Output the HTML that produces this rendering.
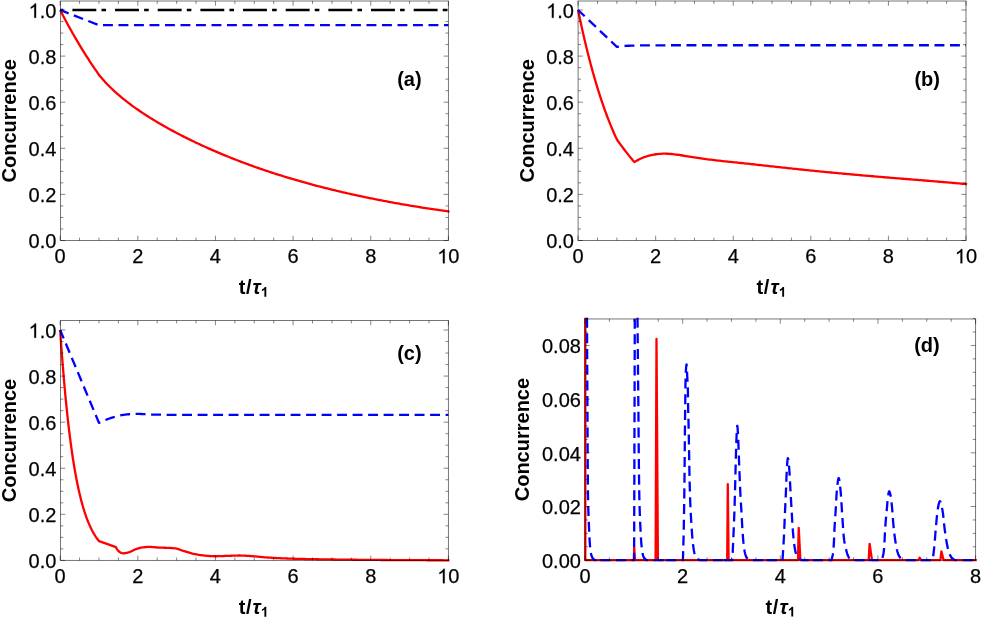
<!DOCTYPE html>
<html><head><meta charset="utf-8"><title>Concurrence</title>
<style>html,body{margin:0;padding:0;background:#fff;}svg{display:block;}</style></head><body>
<svg width="981" height="617" viewBox="0 0 981 617">
<rect width="981" height="617" fill="#fff"/>
<g id="a-curves">
<path d="M60.15 10 L448.4 10" fill="none" stroke="#000" stroke-width="2.3" stroke-linejoin="round" stroke-dasharray="4.6 9 23.9 5.16" stroke-dashoffset="1.35"/>
<path d="M60.15 10 L61.49 12.61 L62.83 15.19 L64.17 17.74 L65.51 20.26 L66.84 22.75 L68.18 25.21 L69.52 27.65 L70.86 30.06 L72.2 32.44 L73.54 34.79 L74.88 37.12 L76.22 39.42 L77.55 41.7 L78.89 43.95 L80.23 46.17 L81.57 48.37 L82.91 50.54 L84.25 52.69 L85.59 54.82 L86.93 56.92 L88.26 58.99 L89.6 61.05 L90.94 63.08 L92.28 65.09 L93.62 67.07 L94.96 69.03 L96.3 70.97 L97.64 72.89 L98.97 74.79 L98.97 74.92 L100.73 77.03 L102.49 79.06 L104.24 81.02 L106 82.92 L107.75 84.75 L109.51 86.53 L111.27 88.25 L113.02 89.92 L114.78 91.54 L116.53 93.13 L118.29 94.67 L120.05 96.17 L121.8 97.64 L123.56 99.07 L125.31 100.47 L127.07 101.85 L128.83 103.19 L130.58 104.51 L132.34 105.81 L134.09 107.08 L135.85 108.33 L137.6 109.56 L139.36 110.77 L141.12 111.96 L142.87 113.13 L144.63 114.28 L146.38 115.42 L148.14 116.54 L149.9 117.65 L151.65 118.74 L153.41 119.81 L155.16 120.88 L156.92 121.93 L158.68 122.97 L160.43 124 L162.19 125.01 L163.94 126.01 L165.7 127.01 L167.46 127.99 L169.21 128.96 L170.97 129.92 L172.72 130.87 L174.48 131.81 L176.23 132.74 L177.99 133.66 L179.75 134.58 L181.5 135.48 L183.26 136.38 L185.01 137.26 L186.77 138.14 L188.53 139.01 L190.28 139.88 L192.04 140.73 L193.79 141.58 L195.55 142.42 L197.31 143.25 L199.06 144.07 L200.82 144.89 L202.57 145.7 L204.33 146.5 L206.09 147.29 L207.84 148.08 L209.6 148.86 L211.35 149.63 L213.11 150.4 L214.86 151.16 L216.62 151.92 L218.38 152.66 L220.13 153.4 L221.89 154.14 L223.64 154.87 L225.4 155.59 L227.16 156.3 L228.91 157.01 L230.67 157.72 L232.42 158.41 L234.18 159.1 L235.94 159.79 L237.69 160.47 L239.45 161.14 L241.2 161.81 L242.96 162.47 L244.72 163.13 L246.47 163.78 L248.23 164.43 L249.98 165.07 L251.74 165.7 L253.49 166.33 L255.25 166.96 L257.01 167.58 L258.76 168.19 L260.52 168.8 L262.27 169.4 L264.03 170 L265.79 170.59 L267.54 171.18 L269.3 171.76 L271.05 172.34 L272.81 172.92 L274.57 173.48 L276.32 174.05 L278.08 174.61 L279.83 175.16 L281.59 175.71 L283.34 176.26 L285.1 176.8 L286.86 177.33 L288.61 177.86 L290.37 178.39 L292.12 178.91 L293.88 179.43 L295.64 179.95 L297.39 180.45 L299.15 180.96 L300.9 181.46 L302.66 181.96 L304.42 182.45 L306.17 182.94 L307.93 183.42 L309.68 183.9 L311.44 184.38 L313.2 184.85 L314.95 185.32 L316.71 185.78 L318.46 186.24 L320.22 186.7 L321.97 187.15 L323.73 187.6 L325.49 188.05 L327.24 188.49 L329 188.92 L330.75 189.36 L332.51 189.79 L334.27 190.21 L336.02 190.64 L337.78 191.06 L339.53 191.47 L341.29 191.89 L343.05 192.29 L344.8 192.7 L346.56 193.1 L348.31 193.5 L350.07 193.9 L351.83 194.29 L353.58 194.68 L355.34 195.06 L357.09 195.44 L358.85 195.82 L360.6 196.2 L362.36 196.57 L364.12 196.94 L365.87 197.31 L367.63 197.67 L369.38 198.03 L371.14 198.39 L372.9 198.74 L374.65 199.09 L376.41 199.44 L378.16 199.79 L379.92 200.13 L381.68 200.47 L383.43 200.81 L385.19 201.14 L386.94 201.47 L388.7 201.8 L390.46 202.12 L392.21 202.45 L393.97 202.77 L395.72 203.08 L397.48 203.4 L399.23 203.71 L400.99 204.02 L402.75 204.33 L404.5 204.63 L406.26 204.93 L408.01 205.23 L409.77 205.53 L411.53 205.82 L413.28 206.11 L415.04 206.4 L416.79 206.69 L418.55 206.98 L420.31 207.26 L422.06 207.54 L423.82 207.81 L425.57 208.09 L427.33 208.36 L429.09 208.63 L430.84 208.9 L432.6 209.17 L434.35 209.43 L436.11 209.69 L437.86 209.95 L439.62 210.21 L441.38 210.46 L443.13 210.71 L444.89 210.96 L446.64 211.21 L448.4 211.46 L449.5 211.61" fill="none" stroke="#f00" stroke-width="2.3" stroke-linejoin="round"/>
<path d="M60.15 10 L98.97 25.17 L448.4 25.17" fill="none" stroke="#00f" stroke-width="2.3" stroke-linejoin="round" stroke-dasharray="9.9 5.6" stroke-dashoffset="0.8"/>
</g>
<g id="a-frame" stroke="#000" stroke-opacity="0.6" stroke-width="0.8" fill="none">
<rect x="60.5" y="1" width="387.9" height="239.5" stroke-width="0.9"/>
<path d="M60.15 240.5 v-4.8 M60.15 1 v4.8 M79.56 240.5 v-2.9 M79.56 1 v2.9 M98.97 240.5 v-2.9 M98.97 1 v2.9 M118.39 240.5 v-2.9 M118.39 1 v2.9 M137.8 240.5 v-4.8 M137.8 1 v4.8 M157.21 240.5 v-2.9 M157.21 1 v2.9 M176.62 240.5 v-2.9 M176.62 1 v2.9 M196.04 240.5 v-2.9 M196.04 1 v2.9 M215.45 240.5 v-4.8 M215.45 1 v4.8 M234.86 240.5 v-2.9 M234.86 1 v2.9 M254.28 240.5 v-2.9 M254.28 1 v2.9 M273.69 240.5 v-2.9 M273.69 1 v2.9 M293.1 240.5 v-4.8 M293.1 1 v4.8 M312.51 240.5 v-2.9 M312.51 1 v2.9 M331.93 240.5 v-2.9 M331.93 1 v2.9 M351.34 240.5 v-2.9 M351.34 1 v2.9 M370.75 240.5 v-4.8 M370.75 1 v4.8 M390.16 240.5 v-2.9 M390.16 1 v2.9 M409.57 240.5 v-2.9 M409.57 1 v2.9 M428.99 240.5 v-2.9 M428.99 1 v2.9 M448.4 240.5 v-4.8 M448.4 1 v4.8 M60.5 240.5 h4.8 M448.4 240.5 h-4.8 M60.5 228.97 h2.9 M448.4 228.97 h-2.9 M60.5 217.45 h2.9 M448.4 217.45 h-2.9 M60.5 205.93 h2.9 M448.4 205.93 h-2.9 M60.5 194.4 h4.8 M448.4 194.4 h-4.8 M60.5 182.88 h2.9 M448.4 182.88 h-2.9 M60.5 171.35 h2.9 M448.4 171.35 h-2.9 M60.5 159.82 h2.9 M448.4 159.82 h-2.9 M60.5 148.3 h4.8 M448.4 148.3 h-4.8 M60.5 136.77 h2.9 M448.4 136.77 h-2.9 M60.5 125.25 h2.9 M448.4 125.25 h-2.9 M60.5 113.72 h2.9 M448.4 113.72 h-2.9 M60.5 102.2 h4.8 M448.4 102.2 h-4.8 M60.5 90.67 h2.9 M448.4 90.67 h-2.9 M60.5 79.15 h2.9 M448.4 79.15 h-2.9 M60.5 67.62 h2.9 M448.4 67.62 h-2.9 M60.5 56.1 h4.8 M448.4 56.1 h-4.8 M60.5 44.57 h2.9 M448.4 44.57 h-2.9 M60.5 33.05 h2.9 M448.4 33.05 h-2.9 M60.5 21.52 h2.9 M448.4 21.52 h-2.9 M60.5 10 h4.8 M448.4 10 h-4.8"/>
</g>
<g id="a-labels" font-family='"Liberation Sans", sans-serif' font-size="20" fill="#000" style="filter:grayscale(1)">
<text x="56.4" y="248.3" text-anchor="end" stroke="#000" stroke-width="0.25">0.0</text>
<text x="56.4" y="202.2" text-anchor="end" stroke="#000" stroke-width="0.25">0.2</text>
<text x="56.4" y="156.1" text-anchor="end" stroke="#000" stroke-width="0.25">0.4</text>
<text x="56.4" y="110" text-anchor="end" stroke="#000" stroke-width="0.25">0.6</text>
<text x="56.4" y="63.9" text-anchor="end" stroke="#000" stroke-width="0.25">0.8</text>
<path d="M36.05 17.8H34.29V6.6Q33.66 7.2 32.63 7.81Q31.6 8.42 30.77 8.72V7.02Q32.25 6.33 33.35 5.34Q34.46 4.35 34.92 3.43H36.05Z" fill="#000" stroke="#000" stroke-width="0.25"/>
<text x="56.4" y="17.8" text-anchor="end" stroke="#000" stroke-width="0.25">.0</text>
<text x="60.1" y="263.3" text-anchor="middle" stroke="#000" stroke-width="0.25">0</text>
<text x="137.75" y="263.3" text-anchor="middle" stroke="#000" stroke-width="0.25">2</text>
<text x="215.4" y="263.3" text-anchor="middle" stroke="#000" stroke-width="0.25">4</text>
<text x="293.05" y="263.3" text-anchor="middle" stroke="#000" stroke-width="0.25">6</text>
<text x="370.7" y="263.3" text-anchor="middle" stroke="#000" stroke-width="0.25">8</text>
<path d="M444.68 263.3H442.92V252.1Q442.29 252.7 441.26 253.31Q440.22 253.92 439.4 254.22V252.52Q440.88 251.83 441.98 250.84Q443.09 249.85 443.55 248.93H444.68Z" fill="#000" stroke="#000" stroke-width="0.25"/>
<text x="448.35" y="263.3" text-anchor="start" stroke="#000" stroke-width="0.25">0</text>
<text transform="translate(15.7 120.75) rotate(-90)" text-anchor="middle" font-weight="bold">Concurrence</text>
<text x="238.7" y="293.8" font-weight="bold">t</text>
<text x="245.9" y="293.8" font-weight="bold">/</text>
<text x="252.6" y="293.8" font-weight="bold" font-style="italic">τ</text>
<path d="M266.29 296.8H264.41V289.72Q263.38 290.68 261.98 291.14V289.43Q262.72 289.19 263.58 288.52Q264.45 287.85 264.77 286.95H266.29Z" fill="#000"/>
<text x="409.4" y="85.8" text-anchor="middle" font-weight="bold">(a)</text>
</g>
<g id="b-curves">
<path d="M578.1 10 L579.09 14.83 L580.09 19.55 L581.08 24.18 L582.08 28.71 L583.07 33.15 L584.07 37.49 L585.06 41.74 L586.06 45.91 L587.05 49.98 L588.05 53.97 L589.04 57.88 L590.04 61.7 L591.03 65.45 L592.02 69.11 L593.02 72.7 L594.01 76.22 L595.01 79.66 L596 83.03 L597 86.33 L597.99 89.55 L598.99 92.72 L599.98 95.81 L600.98 98.84 L601.97 101.81 L602.97 104.71 L603.96 107.56 L604.95 110.34 L605.95 113.07 L606.94 115.74 L607.94 118.35 L608.93 120.91 L609.93 123.41 L610.92 125.87 L611.92 128.27 L612.91 130.62 L613.91 132.92 L614.9 135.17 L615.9 137.38 L616.89 139.54 L616.89 139.54 L618.48 141.75 L620.06 143.93 L621.65 146.08 L623.24 148.2 L624.82 150.29 L626.41 152.34 L628 154.36 L629.58 156.35 L631.17 158.31 L632.76 160.24 L634.35 162.13 L634.35 162.13 L636.01 161.09 L637.68 160.14 L639.35 159.27 L641.01 158.48 L642.68 157.76 L644.35 157.11 L646.01 156.53 L647.68 156.01 L649.34 155.56 L651.01 155.16 L652.68 154.81 L654.34 154.51 L656.01 154.26 L657.68 154.06 L659.34 153.9 L661.01 153.79 L662.68 153.72 L664.34 153.7 L666.01 153.71 L667.68 153.77 L669.34 153.86 L671.01 153.98 L672.68 154.14 L674.34 154.32 L676.01 154.52 L677.68 154.75 L679.34 154.98 L681.01 155.24 L682.68 155.5 L684.34 155.77 L686.01 156.04 L687.68 156.32 L689.34 156.6 L691.01 156.87 L692.68 157.14 L694.34 157.41 L696.01 157.66 L697.68 157.92 L699.34 158.16 L701.01 158.4 L702.68 158.63 L704.34 158.86 L706.01 159.09 L707.68 159.31 L709.34 159.52 L711.01 159.73 L712.68 159.94 L714.34 160.14 L716.01 160.34 L717.68 160.53 L719.34 160.72 L721.01 160.91 L722.68 161.09 L724.34 161.27 L726.01 161.45 L727.68 161.62 L729.34 161.8 L731.01 161.97 L732.68 162.14 L734.34 162.31 L736.01 162.48 L737.68 162.66 L739.34 162.83 L741.01 163.01 L742.67 163.19 L744.34 163.36 L746.01 163.54 L747.67 163.72 L749.34 163.9 L751.01 164.08 L752.67 164.26 L754.34 164.44 L756.01 164.62 L757.67 164.8 L759.34 164.99 L761.01 165.17 L762.67 165.35 L764.34 165.54 L766.01 165.72 L767.67 165.9 L769.34 166.09 L771.01 166.27 L772.67 166.45 L774.34 166.63 L776.01 166.82 L777.67 167 L779.34 167.18 L781.01 167.36 L782.67 167.55 L784.34 167.73 L786.01 167.91 L787.67 168.09 L789.34 168.27 L791.01 168.45 L792.67 168.62 L794.34 168.8 L796.01 168.98 L797.67 169.15 L799.34 169.33 L801.01 169.5 L802.67 169.68 L804.34 169.85 L806.01 170.02 L807.67 170.19 L809.34 170.36 L811.01 170.53 L812.67 170.7 L814.34 170.87 L816.01 171.03 L817.67 171.2 L819.34 171.37 L821.01 171.53 L822.67 171.7 L824.34 171.86 L826.01 172.02 L827.67 172.18 L829.34 172.34 L831 172.5 L832.67 172.66 L834.34 172.82 L836 172.98 L837.67 173.14 L839.34 173.29 L841 173.45 L842.67 173.6 L844.34 173.76 L846 173.91 L847.67 174.06 L849.34 174.21 L851 174.36 L852.67 174.51 L854.34 174.66 L856 174.81 L857.67 174.96 L859.34 175.11 L861 175.25 L862.67 175.4 L864.34 175.54 L866 175.69 L867.67 175.83 L869.34 175.97 L871 176.11 L872.67 176.25 L874.34 176.4 L876 176.54 L877.67 176.68 L879.34 176.81 L881 176.95 L882.67 177.09 L884.34 177.23 L886 177.37 L887.67 177.51 L889.34 177.64 L891 177.78 L892.67 177.92 L894.34 178.05 L896 178.19 L897.67 178.32 L899.34 178.46 L901 178.59 L902.67 178.73 L904.34 178.86 L906 179 L907.67 179.13 L909.34 179.27 L911 179.41 L912.67 179.54 L914.34 179.68 L916 179.81 L917.67 179.95 L919.34 180.08 L921 180.22 L922.67 180.35 L924.33 180.49 L926 180.62 L927.67 180.76 L929.33 180.9 L931 181.03 L932.67 181.17 L934.33 181.31 L936 181.45 L937.67 181.59 L939.33 181.73 L941 181.87 L942.67 182 L944.33 182.15 L946 182.29 L947.67 182.43 L949.33 182.57 L951 182.71 L952.67 182.86 L954.33 183 L956 183.14 L957.67 183.29 L959.33 183.44 L961 183.58 L962.67 183.73 L964.33 183.88 L966 184.03 L967.1 184.13" fill="none" stroke="#f00" stroke-width="2.3" stroke-linejoin="round"/>
<path d="M578.1 10 L616.89 46.88 L619.82 46.46 L622.76 46.15 L625.69 45.92 L628.62 45.75 L631.56 45.62 L634.49 45.53 L637.43 45.46 L640.36 45.41 L643.29 45.37 L646.23 45.34 L649.16 45.32 L652.09 45.31 L655.03 45.3 L657.96 45.29 L660.9 45.28 L663.83 45.28 L666.76 45.28 L669.7 45.27 L672.63 45.27 L675.56 45.27 L678.5 45.27 L681.43 45.27 L684.37 45.27 L687.3 45.27 L690.23 45.27 L693.17 45.27 L696.1 45.27 L699.03 45.27 L701.97 45.27 L704.9 45.27 L707.83 45.27 L710.77 45.27 L713.7 45.27 L716.64 45.27 L719.57 45.27 L722.5 45.27 L725.44 45.27 L728.37 45.27 L731.3 45.27 L734.24 45.27 L737.17 45.27 L740.11 45.27 L743.04 45.27 L745.97 45.27 L748.91 45.27 L751.84 45.27 L754.77 45.27 L757.71 45.27 L760.64 45.27 L763.57 45.27 L766.51 45.27 L769.44 45.27 L772.38 45.27 L775.31 45.27 L778.24 45.27 L781.18 45.27 L784.11 45.27 L787.04 45.27 L789.98 45.27 L792.91 45.27 L795.85 45.27 L798.78 45.27 L801.71 45.27 L804.65 45.27 L807.58 45.27 L810.51 45.27 L813.45 45.27 L816.38 45.27 L819.32 45.27 L822.25 45.27 L825.18 45.27 L828.12 45.27 L831.05 45.27 L833.98 45.27 L836.92 45.27 L839.85 45.27 L842.78 45.27 L845.72 45.27 L848.65 45.27 L851.59 45.27 L854.52 45.27 L857.45 45.27 L860.39 45.27 L863.32 45.27 L866.25 45.27 L869.19 45.27 L872.12 45.27 L875.06 45.27 L877.99 45.27 L880.92 45.27 L883.86 45.27 L886.79 45.27 L889.72 45.27 L892.66 45.27 L895.59 45.27 L898.52 45.27 L901.46 45.27 L904.39 45.27 L907.33 45.27 L910.26 45.27 L913.19 45.27 L916.13 45.27 L919.06 45.27 L921.99 45.27 L924.93 45.27 L927.86 45.27 L930.8 45.27 L933.73 45.27 L936.66 45.27 L939.6 45.27 L942.53 45.27 L945.46 45.27 L948.4 45.27 L951.33 45.27 L954.27 45.27 L957.2 45.27 L960.13 45.27 L963.07 45.27 L966 45.27" fill="none" stroke="#00f" stroke-width="2.3" stroke-linejoin="round" stroke-dasharray="9.9 5.6" stroke-dashoffset="0.8"/>
</g>
<g id="b-frame" stroke="#000" stroke-opacity="0.6" stroke-width="0.8" fill="none">
<rect x="578.1" y="1" width="387.9" height="239.5" stroke-width="0.9"/>
<path d="M578.1 240.5 v-4.8 M578.1 1 v4.8 M597.5 240.5 v-2.9 M597.5 1 v2.9 M616.89 240.5 v-2.9 M616.89 1 v2.9 M636.29 240.5 v-2.9 M636.29 1 v2.9 M655.68 240.5 v-4.8 M655.68 1 v4.8 M675.08 240.5 v-2.9 M675.08 1 v2.9 M694.47 240.5 v-2.9 M694.47 1 v2.9 M713.87 240.5 v-2.9 M713.87 1 v2.9 M733.26 240.5 v-4.8 M733.26 1 v4.8 M752.65 240.5 v-2.9 M752.65 1 v2.9 M772.05 240.5 v-2.9 M772.05 1 v2.9 M791.45 240.5 v-2.9 M791.45 1 v2.9 M810.84 240.5 v-4.8 M810.84 1 v4.8 M830.24 240.5 v-2.9 M830.24 1 v2.9 M849.63 240.5 v-2.9 M849.63 1 v2.9 M869.03 240.5 v-2.9 M869.03 1 v2.9 M888.42 240.5 v-4.8 M888.42 1 v4.8 M907.82 240.5 v-2.9 M907.82 1 v2.9 M927.21 240.5 v-2.9 M927.21 1 v2.9 M946.61 240.5 v-2.9 M946.61 1 v2.9 M966 240.5 v-4.8 M966 1 v4.8 M578.1 240.5 h4.8 M966 240.5 h-4.8 M578.1 228.97 h2.9 M966 228.97 h-2.9 M578.1 217.45 h2.9 M966 217.45 h-2.9 M578.1 205.93 h2.9 M966 205.93 h-2.9 M578.1 194.4 h4.8 M966 194.4 h-4.8 M578.1 182.88 h2.9 M966 182.88 h-2.9 M578.1 171.35 h2.9 M966 171.35 h-2.9 M578.1 159.82 h2.9 M966 159.82 h-2.9 M578.1 148.3 h4.8 M966 148.3 h-4.8 M578.1 136.77 h2.9 M966 136.77 h-2.9 M578.1 125.25 h2.9 M966 125.25 h-2.9 M578.1 113.72 h2.9 M966 113.72 h-2.9 M578.1 102.2 h4.8 M966 102.2 h-4.8 M578.1 90.67 h2.9 M966 90.67 h-2.9 M578.1 79.15 h2.9 M966 79.15 h-2.9 M578.1 67.62 h2.9 M966 67.62 h-2.9 M578.1 56.1 h4.8 M966 56.1 h-4.8 M578.1 44.57 h2.9 M966 44.57 h-2.9 M578.1 33.05 h2.9 M966 33.05 h-2.9 M578.1 21.52 h2.9 M966 21.52 h-2.9 M578.1 10 h4.8 M966 10 h-4.8"/>
</g>
<g id="b-labels" font-family='"Liberation Sans", sans-serif' font-size="20" fill="#000" style="filter:grayscale(1)">
<text x="574" y="248.3" text-anchor="end" stroke="#000" stroke-width="0.25">0.0</text>
<text x="574" y="202.2" text-anchor="end" stroke="#000" stroke-width="0.25">0.2</text>
<text x="574" y="156.1" text-anchor="end" stroke="#000" stroke-width="0.25">0.4</text>
<text x="574" y="110" text-anchor="end" stroke="#000" stroke-width="0.25">0.6</text>
<text x="574" y="63.9" text-anchor="end" stroke="#000" stroke-width="0.25">0.8</text>
<path d="M553.65 17.8H551.89V6.6Q551.26 7.2 550.23 7.81Q549.2 8.42 548.38 8.72V7.02Q549.85 6.33 550.95 5.34Q552.06 4.35 552.52 3.43H553.65Z" fill="#000" stroke="#000" stroke-width="0.25"/>
<text x="574" y="17.8" text-anchor="end" stroke="#000" stroke-width="0.25">.0</text>
<text x="578.05" y="263.3" text-anchor="middle" stroke="#000" stroke-width="0.25">0</text>
<text x="655.63" y="263.3" text-anchor="middle" stroke="#000" stroke-width="0.25">2</text>
<text x="733.21" y="263.3" text-anchor="middle" stroke="#000" stroke-width="0.25">4</text>
<text x="810.79" y="263.3" text-anchor="middle" stroke="#000" stroke-width="0.25">6</text>
<text x="888.37" y="263.3" text-anchor="middle" stroke="#000" stroke-width="0.25">8</text>
<path d="M962.28 263.3H960.52V252.1Q959.89 252.7 958.86 253.31Q957.83 253.92 957 254.22V252.52Q958.48 251.83 959.58 250.84Q960.69 249.85 961.15 248.93H962.28Z" fill="#000" stroke="#000" stroke-width="0.25"/>
<text x="965.95" y="263.3" text-anchor="start" stroke="#000" stroke-width="0.25">0</text>
<text transform="translate(533.5 120.75) rotate(-90)" text-anchor="middle" font-weight="bold">Concurrence</text>
<text x="756.5" y="293.8" font-weight="bold">t</text>
<text x="763.7" y="293.8" font-weight="bold">/</text>
<text x="770.4" y="293.8" font-weight="bold" font-style="italic">τ</text>
<path d="M784.09 296.8H782.21V289.72Q781.18 290.68 779.78 291.14V289.43Q780.52 289.19 781.38 288.52Q782.25 287.85 782.57 286.95H784.09Z" fill="#000"/>
<text x="927.2" y="85.8" text-anchor="middle" font-weight="bold">(b)</text>
</g>
<g id="c-curves">
<path d="M60.15 330 L60.81 339.48 L61.47 348.58 L62.12 357.3 L62.78 365.66 L63.44 373.67 L64.1 381.36 L64.76 388.73 L65.41 395.8 L66.07 402.57 L66.73 409.07 L67.39 415.3 L68.05 421.27 L68.7 427 L69.36 432.49 L70.02 437.75 L70.68 442.8 L71.34 447.64 L71.99 452.28 L72.65 456.73 L73.31 461 L73.97 465.09 L74.63 469.02 L75.29 472.78 L75.94 476.38 L76.6 479.84 L77.26 483.16 L77.92 486.34 L78.58 489.39 L79.23 492.31 L79.89 495.11 L80.55 497.8 L81.21 500.38 L81.87 502.85 L82.52 505.22 L83.18 507.49 L83.84 509.67 L84.5 511.75 L85.16 513.76 L85.81 515.68 L86.47 517.52 L87.13 519.28 L87.79 520.98 L88.45 522.6 L89.1 524.15 L89.76 525.65 L90.42 527.08 L91.08 528.45 L91.74 529.76 L92.39 531.02 L93.05 532.23 L93.71 533.39 L94.37 534.5 L95.03 535.57 L95.68 536.59 L96.34 537.57 L97 538.51 L97.66 539.41 L98.32 540.28 L98.97 541.11 L98.97 541.11 L106.9 543.81 L115.86 547.11 L115.86 547.11 L116.7 548.57 L117.53 549.88 L118.36 550.94 L119.2 551.67 L120.03 552.19 L120.86 552.65 L121.7 553.01 L122.53 553.24 L123.36 553.3 L124.2 553.25 L125.03 553.15 L125.86 553 L126.7 552.82 L127.53 552.63 L128.37 552.43 L129.2 552.18 L130.03 551.86 L130.87 551.49 L131.7 551.09 L132.53 550.67 L133.37 550.25 L134.2 549.85 L135.03 549.49 L135.87 549.17 L136.7 548.9 L137.53 548.64 L138.37 548.4 L139.2 548.16 L140.03 547.94 L140.87 547.74 L141.7 547.58 L142.53 547.45 L143.37 547.34 L144.2 547.25 L145.03 547.16 L145.87 547.08 L146.7 547.01 L147.53 546.96 L148.37 546.92 L149.2 546.9 L150.03 546.9 L150.87 546.93 L151.7 546.98 L152.53 547.04 L153.37 547.11 L154.2 547.18 L155.03 547.26 L155.87 547.34 L156.7 547.42 L157.54 547.49 L158.37 547.55 L159.2 547.59 L160.04 547.62 L160.87 547.65 L161.7 547.68 L162.54 547.7 L163.37 547.72 L164.2 547.74 L165.04 547.76 L165.87 547.78 L166.7 547.81 L167.54 547.84 L168.37 547.87 L169.2 547.91 L170.04 547.95 L170.87 548 L171.7 548.05 L172.54 548.12 L173.37 548.19 L174.2 548.27 L175.04 548.37 L175.87 548.48 L176.7 548.65 L177.54 548.87 L178.37 549.13 L179.2 549.41 L180.04 549.71 L180.87 550.01 L181.7 550.29 L182.54 550.55 L183.37 550.82 L184.2 551.09 L185.04 551.36 L185.87 551.64 L186.7 551.9 L187.54 552.16 L188.37 552.41 L189.21 552.65 L190.04 552.89 L190.87 553.12 L191.71 553.35 L192.54 553.57 L193.37 553.77 L194.21 553.97 L195.04 554.14 L195.87 554.31 L196.71 554.48 L197.54 554.64 L198.37 554.79 L199.21 554.93 L200.04 555.06 L200.87 555.17 L201.71 555.26 L202.54 555.36 L203.37 555.45 L204.21 555.54 L205.04 555.63 L205.87 555.72 L206.71 555.8 L207.54 555.88 L208.37 555.95 L209.21 556.02 L210.04 556.08 L210.87 556.14 L211.71 556.18 L212.54 556.21 L213.37 556.24 L214.21 556.25 L215.04 556.25 L215.87 556.25 L216.71 556.24 L217.54 556.22 L218.38 556.2 L219.21 556.18 L220.04 556.15 L220.88 556.13 L221.71 556.1 L222.54 556.07 L223.38 556.04 L224.21 556 L225.04 555.97 L225.88 555.95 L226.71 555.92 L227.54 555.89 L228.38 555.87 L229.21 555.83 L230.04 555.8 L230.88 555.77 L231.71 555.73 L232.54 555.7 L233.38 555.66 L234.21 555.63 L235.04 555.6 L235.88 555.57 L236.71 555.55 L237.54 555.53 L238.38 555.52 L239.21 555.52 L240.04 555.52 L240.88 555.53 L241.71 555.55 L242.54 555.57 L243.38 555.61 L244.21 555.65 L245.04 555.69 L245.88 555.74 L246.71 555.79 L247.54 555.84 L248.38 555.9 L249.21 555.95 L250.05 556 L250.88 556.05 L251.71 556.11 L252.55 556.17 L253.38 556.24 L254.21 556.32 L255.05 556.39 L255.88 556.48 L256.71 556.56 L257.55 556.64 L258.38 556.73 L259.21 556.81 L260.05 556.9 L260.88 556.98 L261.71 557.06 L262.55 557.14 L263.38 557.21 L264.21 557.28 L265.05 557.34 L265.88 557.4 L266.71 557.46 L267.55 557.51 L268.38 557.56 L269.21 557.61 L270.05 557.66 L270.88 557.71 L271.71 557.76 L272.55 557.81 L273.38 557.86 L274.21 557.9 L275.05 557.95 L275.88 557.99 L276.71 558.04 L277.55 558.08 L278.38 558.12 L279.21 558.16 L280.05 558.2 L280.88 558.24 L281.72 558.28 L282.55 558.32 L283.38 558.36 L284.22 558.39 L285.05 558.43 L285.88 558.46 L286.72 558.49 L287.55 558.52 L288.38 558.55 L289.22 558.58 L290.05 558.61 L290.88 558.64 L291.72 558.67 L292.55 558.69 L293.38 558.71 L294.22 558.74 L295.05 558.76 L295.88 558.78 L296.72 558.81 L297.55 558.83 L298.38 558.85 L299.22 558.87 L300.05 558.89 L300.88 558.91 L301.72 558.93 L302.55 558.95 L303.38 558.97 L304.22 558.99 L305.05 559.01 L305.88 559.03 L306.72 559.05 L307.55 559.06 L308.38 559.08 L309.22 559.1 L310.05 559.11 L310.89 559.13 L311.72 559.15 L312.55 559.16 L313.39 559.18 L314.22 559.19 L315.05 559.21 L315.89 559.22 L316.72 559.24 L317.55 559.25 L318.39 559.27 L319.22 559.28 L320.05 559.3 L320.89 559.31 L321.72 559.32 L322.55 559.34 L323.39 559.35 L324.22 559.36 L325.05 559.38 L325.89 559.39 L326.72 559.4 L327.55 559.41 L328.39 559.42 L329.22 559.44 L330.05 559.45 L330.89 559.46 L331.72 559.47 L332.55 559.48 L333.39 559.49 L334.22 559.5 L335.05 559.51 L335.89 559.53 L336.72 559.54 L337.55 559.55 L338.39 559.56 L339.22 559.57 L340.05 559.58 L340.89 559.59 L341.72 559.6 L342.56 559.61 L343.39 559.62 L344.22 559.63 L345.06 559.64 L345.89 559.65 L346.72 559.66 L347.56 559.67 L348.39 559.68 L349.22 559.69 L350.06 559.7 L350.89 559.71 L351.72 559.72 L352.56 559.73 L353.39 559.73 L354.22 559.74 L355.06 559.75 L355.89 559.76 L356.72 559.77 L357.56 559.78 L358.39 559.79 L359.22 559.8 L360.06 559.8 L360.89 559.81 L361.72 559.82 L362.56 559.83 L363.39 559.84 L364.22 559.84 L365.06 559.85 L365.89 559.86 L366.72 559.87 L367.56 559.87 L368.39 559.88 L369.22 559.89 L370.06 559.9 L370.89 559.9 L371.73 559.91 L372.56 559.92 L373.39 559.92 L374.23 559.93 L375.06 559.94 L375.89 559.94 L376.73 559.95 L377.56 559.95 L378.39 559.96 L379.23 559.97 L380.06 559.97 L380.89 559.98 L381.73 559.98 L382.56 559.99 L383.39 559.99 L384.23 560 L385.06 560.01 L385.89 560.01 L386.73 560.02 L387.56 560.02 L388.39 560.03 L389.23 560.03 L390.06 560.04 L390.89 560.04 L391.73 560.05 L392.56 560.05 L393.39 560.06 L394.23 560.06 L395.06 560.07 L395.89 560.07 L396.73 560.08 L397.56 560.08 L398.39 560.09 L399.23 560.09 L400.06 560.1 L400.89 560.1 L401.73 560.1 L402.56 560.11 L403.4 560.11 L404.23 560.12 L405.06 560.12 L405.9 560.13 L406.73 560.13 L407.56 560.14 L408.4 560.14 L409.23 560.15 L410.06 560.15 L410.9 560.15 L411.73 560.16 L412.56 560.16 L413.4 560.17 L414.23 560.17 L415.06 560.18 L415.9 560.18 L416.73 560.18 L417.56 560.19 L418.4 560.19 L419.23 560.19 L420.06 560.2 L420.9 560.2 L421.73 560.21 L422.56 560.21 L423.4 560.21 L424.23 560.22 L425.06 560.22 L425.9 560.22 L426.73 560.23 L427.56 560.23 L428.4 560.23 L429.23 560.24 L430.06 560.24 L430.9 560.24 L431.73 560.24 L432.56 560.25 L433.4 560.25 L434.23 560.25 L435.07 560.26 L435.9 560.26 L436.73 560.26 L437.57 560.26 L438.4 560.26 L439.23 560.27 L440.07 560.27 L440.9 560.27 L441.73 560.27 L442.57 560.27 L443.4 560.28 L444.23 560.28 L445.07 560.28 L445.9 560.28 L446.73 560.28 L447.57 560.28 L448.4 560.28 L449.5 560.29" fill="none" stroke="#f00" stroke-width="2.3" stroke-linejoin="round"/>
<path d="M60.15 330 L98.97 422.85 L100.73 422.03 L102.49 421.25 L104.24 420.5 L106 419.79 L107.75 419.12 L109.51 418.49 L111.27 417.9 L113.02 417.32 L114.78 416.77 L116.53 416.27 L118.29 415.83 L120.05 415.46 L121.8 415.14 L123.56 414.86 L125.31 414.62 L127.07 414.42 L128.83 414.27 L130.58 414.13 L132.34 414 L134.09 413.91 L135.85 413.87 L137.6 413.88 L139.36 413.92 L141.12 413.99 L142.87 414.08 L144.63 414.18 L146.38 414.28 L148.14 414.38 L149.9 414.47 L151.65 414.53 L153.41 414.57 L155.16 414.61 L156.92 414.65 L158.68 414.68 L160.43 414.71 L162.19 414.74 L163.94 414.76 L165.7 414.78 L167.46 414.78 L169.21 414.79 L170.97 414.79 L172.72 414.79 L174.48 414.79 L176.23 414.79 L177.99 414.79 L179.75 414.79 L181.5 414.79 L183.26 414.79 L185.01 414.79 L186.77 414.79 L188.53 414.79 L190.28 414.79 L192.04 414.79 L193.79 414.79 L195.55 414.79 L197.31 414.79 L199.06 414.79 L200.82 414.79 L202.57 414.79 L204.33 414.79 L206.09 414.79 L207.84 414.79 L209.6 414.79 L211.35 414.79 L213.11 414.79 L214.86 414.79 L216.62 414.79 L218.38 414.79 L220.13 414.79 L221.89 414.79 L223.64 414.79 L225.4 414.79 L227.16 414.79 L228.91 414.79 L230.67 414.79 L232.42 414.79 L234.18 414.79 L235.94 414.79 L237.69 414.79 L239.45 414.79 L241.2 414.79 L242.96 414.79 L244.72 414.79 L246.47 414.79 L248.23 414.79 L249.98 414.79 L251.74 414.79 L253.49 414.79 L255.25 414.79 L257.01 414.79 L258.76 414.79 L260.52 414.79 L262.27 414.79 L264.03 414.79 L265.79 414.79 L267.54 414.79 L269.3 414.79 L271.05 414.79 L272.81 414.79 L274.57 414.79 L276.32 414.79 L278.08 414.79 L279.83 414.79 L281.59 414.79 L283.34 414.79 L285.1 414.79 L286.86 414.79 L288.61 414.79 L290.37 414.79 L292.12 414.79 L293.88 414.79 L295.64 414.79 L297.39 414.79 L299.15 414.79 L300.9 414.79 L302.66 414.79 L304.42 414.79 L306.17 414.79 L307.93 414.79 L309.68 414.79 L311.44 414.79 L313.2 414.79 L314.95 414.79 L316.71 414.79 L318.46 414.79 L320.22 414.79 L321.97 414.79 L323.73 414.79 L325.49 414.79 L327.24 414.79 L329 414.79 L330.75 414.79 L332.51 414.79 L334.27 414.79 L336.02 414.79 L337.78 414.79 L339.53 414.79 L341.29 414.79 L343.05 414.79 L344.8 414.79 L346.56 414.79 L348.31 414.79 L350.07 414.79 L351.83 414.79 L353.58 414.79 L355.34 414.79 L357.09 414.79 L358.85 414.79 L360.6 414.79 L362.36 414.79 L364.12 414.79 L365.87 414.79 L367.63 414.79 L369.38 414.79 L371.14 414.79 L372.9 414.79 L374.65 414.79 L376.41 414.79 L378.16 414.79 L379.92 414.79 L381.68 414.79 L383.43 414.79 L385.19 414.79 L386.94 414.79 L388.7 414.79 L390.46 414.79 L392.21 414.79 L393.97 414.79 L395.72 414.79 L397.48 414.79 L399.23 414.79 L400.99 414.79 L402.75 414.79 L404.5 414.79 L406.26 414.79 L408.01 414.79 L409.77 414.79 L411.53 414.79 L413.28 414.79 L415.04 414.79 L416.79 414.79 L418.55 414.79 L420.31 414.79 L422.06 414.79 L423.82 414.79 L425.57 414.79 L427.33 414.79 L429.09 414.79 L430.84 414.79 L432.6 414.79 L434.35 414.79 L436.11 414.79 L437.86 414.79 L439.62 414.79 L441.38 414.79 L443.13 414.79 L444.89 414.79 L446.64 414.79 L448.4 414.79" fill="none" stroke="#00f" stroke-width="2.3" stroke-linejoin="round" stroke-dasharray="9.9 5.6" stroke-dashoffset="0.8"/>
</g>
<g id="c-frame" stroke="#000" stroke-opacity="0.6" stroke-width="0.8" fill="none">
<rect x="60.5" y="320.5" width="387.9" height="239.9" stroke-width="0.9"/>
<path d="M60.15 560.4 v-4.8 M60.15 320.5 v4.8 M79.56 560.4 v-2.9 M79.56 320.5 v2.9 M98.97 560.4 v-2.9 M98.97 320.5 v2.9 M118.39 560.4 v-2.9 M118.39 320.5 v2.9 M137.8 560.4 v-4.8 M137.8 320.5 v4.8 M157.21 560.4 v-2.9 M157.21 320.5 v2.9 M176.62 560.4 v-2.9 M176.62 320.5 v2.9 M196.04 560.4 v-2.9 M196.04 320.5 v2.9 M215.45 560.4 v-4.8 M215.45 320.5 v4.8 M234.86 560.4 v-2.9 M234.86 320.5 v2.9 M254.28 560.4 v-2.9 M254.28 320.5 v2.9 M273.69 560.4 v-2.9 M273.69 320.5 v2.9 M293.1 560.4 v-4.8 M293.1 320.5 v4.8 M312.51 560.4 v-2.9 M312.51 320.5 v2.9 M331.93 560.4 v-2.9 M331.93 320.5 v2.9 M351.34 560.4 v-2.9 M351.34 320.5 v2.9 M370.75 560.4 v-4.8 M370.75 320.5 v4.8 M390.16 560.4 v-2.9 M390.16 320.5 v2.9 M409.57 560.4 v-2.9 M409.57 320.5 v2.9 M428.99 560.4 v-2.9 M428.99 320.5 v2.9 M448.4 560.4 v-4.8 M448.4 320.5 v4.8 M60.5 560.4 h4.8 M448.4 560.4 h-4.8 M60.5 548.88 h2.9 M448.4 548.88 h-2.9 M60.5 537.36 h2.9 M448.4 537.36 h-2.9 M60.5 525.84 h2.9 M448.4 525.84 h-2.9 M60.5 514.32 h4.8 M448.4 514.32 h-4.8 M60.5 502.8 h2.9 M448.4 502.8 h-2.9 M60.5 491.28 h2.9 M448.4 491.28 h-2.9 M60.5 479.76 h2.9 M448.4 479.76 h-2.9 M60.5 468.24 h4.8 M448.4 468.24 h-4.8 M60.5 456.72 h2.9 M448.4 456.72 h-2.9 M60.5 445.2 h2.9 M448.4 445.2 h-2.9 M60.5 433.68 h2.9 M448.4 433.68 h-2.9 M60.5 422.16 h4.8 M448.4 422.16 h-4.8 M60.5 410.64 h2.9 M448.4 410.64 h-2.9 M60.5 399.12 h2.9 M448.4 399.12 h-2.9 M60.5 387.6 h2.9 M448.4 387.6 h-2.9 M60.5 376.08 h4.8 M448.4 376.08 h-4.8 M60.5 364.56 h2.9 M448.4 364.56 h-2.9 M60.5 353.04 h2.9 M448.4 353.04 h-2.9 M60.5 341.52 h2.9 M448.4 341.52 h-2.9 M60.5 330 h4.8 M448.4 330 h-4.8"/>
</g>
<g id="c-labels" font-family='"Liberation Sans", sans-serif' font-size="20" fill="#000" style="filter:grayscale(1)">
<text x="56.4" y="568.2" text-anchor="end" stroke="#000" stroke-width="0.25">0.0</text>
<text x="56.4" y="522.12" text-anchor="end" stroke="#000" stroke-width="0.25">0.2</text>
<text x="56.4" y="476.04" text-anchor="end" stroke="#000" stroke-width="0.25">0.4</text>
<text x="56.4" y="429.96" text-anchor="end" stroke="#000" stroke-width="0.25">0.6</text>
<text x="56.4" y="383.88" text-anchor="end" stroke="#000" stroke-width="0.25">0.8</text>
<path d="M36.05 337.8H34.29V326.6Q33.66 327.2 32.63 327.81Q31.6 328.42 30.77 328.72V327.02Q32.25 326.33 33.35 325.34Q34.46 324.35 34.92 323.43H36.05Z" fill="#000" stroke="#000" stroke-width="0.25"/>
<text x="56.4" y="337.8" text-anchor="end" stroke="#000" stroke-width="0.25">.0</text>
<text x="60.1" y="583.2" text-anchor="middle" stroke="#000" stroke-width="0.25">0</text>
<text x="137.75" y="583.2" text-anchor="middle" stroke="#000" stroke-width="0.25">2</text>
<text x="215.4" y="583.2" text-anchor="middle" stroke="#000" stroke-width="0.25">4</text>
<text x="293.05" y="583.2" text-anchor="middle" stroke="#000" stroke-width="0.25">6</text>
<text x="370.7" y="583.2" text-anchor="middle" stroke="#000" stroke-width="0.25">8</text>
<path d="M444.68 583.2H442.92V572Q442.29 572.6 441.26 573.21Q440.22 573.82 439.4 574.12V572.42Q440.88 571.73 441.98 570.74Q443.09 569.75 443.55 568.82H444.68Z" fill="#000" stroke="#000" stroke-width="0.25"/>
<text x="448.35" y="583.2" text-anchor="start" stroke="#000" stroke-width="0.25">0</text>
<text transform="translate(15.7 440.45) rotate(-90)" text-anchor="middle" font-weight="bold">Concurrence</text>
<text x="238.7" y="613.7" font-weight="bold">t</text>
<text x="245.9" y="613.7" font-weight="bold">/</text>
<text x="252.6" y="613.7" font-weight="bold" font-style="italic">τ</text>
<path d="M266.29 616.7H264.41V609.62Q263.38 610.58 261.98 611.04V609.33Q262.72 609.09 263.58 608.42Q264.45 607.75 264.77 606.85H266.29Z" fill="#000"/>
<text x="409.4" y="359.8" text-anchor="middle" font-weight="bold">(c)</text>
</g>
<g id="d-curves">
<path d="M585.3 317.8 L585.3 560.2 L634 560.2 L633.9 560.2 L634.2 547.1 L634.9 560.2 L655.6 560.2 L656.5 339 L657.9 560.2 L727.2 560.2 L727.8 484.2 L728.6 560.2 L798 560.2 L798.7 527.9 L800.4 560.2 L868.7 560.2 L869.6 543.8 L872 560.2 L918.6 560.2 L919.6 557.6 L921.2 560.2 L940.4 560.2 L941.4 551.4 L943.6 560.2 L976.8 560.2" fill="none" stroke="#f00" stroke-width="2.3" stroke-linejoin="round"/>
<path d="M587 317.8 L587.01 320.74 L587.02 323.68 L587.04 326.62 L587.05 329.55 L587.06 332.49 L587.08 335.43 L587.09 338.37 L587.1 341.31 L587.12 344.25 L587.13 347.18 L587.14 350.12 L587.16 353.06 L587.17 356 L587.19 358.94 L587.2 361.88 L587.22 364.82 L587.23 367.75 L587.25 370.69 L587.26 373.63 L587.28 376.57 L587.29 379.51 L587.31 382.45 L587.32 385.38 L587.34 388.32 L587.35 391.26 L587.37 394.2 L587.38 397.14 L587.4 400.08 L587.42 403.01 L587.43 405.95 L587.45 408.89 L587.46 411.83 L587.47 414.77 L587.49 417.71 L587.5 420.65 L587.51 423.58 L587.53 426.52 L587.54 429.46 L587.55 432.4 L587.57 435.34 L587.58 438.28 L587.59 441.22 L587.61 444.16 L587.62 447.09 L587.64 450.03 L587.65 452.97 L587.67 455.91 L587.69 458.85 L587.71 461.79 L587.73 464.73 L587.75 467.66 L587.77 470.6 L587.79 473.54 L587.82 476.48 L587.84 479.42 L587.87 482.35 L587.9 485.29 L587.93 488.23 L587.96 491.17 L587.99 494.11 L588.03 497.04 L588.08 499.98 L588.14 502.92 L588.21 505.86 L588.3 508.79 L588.39 511.73 L588.49 514.67 L588.6 517.61 L588.72 520.54 L588.84 523.48 L588.96 526.42 L589.09 529.35 L589.23 532.29 L589.36 535.23 L589.5 538.17 L589.67 541.12 L589.86 544.05 L590.1 546.98 L590.39 549.88 L590.82 552.87 L591.52 555.81 L592.63 558.27 L595 560.2 L597.5 560.2" fill="none" stroke="#00f" stroke-width="2.3" stroke-linejoin="round" stroke-dasharray="10.03 5.67" stroke-dashoffset="0.2"/>
<path d="M597.5 560.2 L634.1 560.2 L634.8 317.8" fill="none" stroke="#00f" stroke-width="2.3" stroke-linejoin="round" stroke-dasharray="9.95 5.65" stroke-dashoffset="12.7"/>
<path d="M637.5 317.8 L637.53 320.74 L637.56 323.68 L637.58 326.61 L637.61 329.55 L637.64 332.49 L637.67 335.43 L637.69 338.36 L637.72 341.3 L637.75 344.24 L637.78 347.18 L637.81 350.11 L637.84 353.05 L637.86 355.99 L637.89 358.93 L637.92 361.86 L637.95 364.8 L637.98 367.74 L638.01 370.68 L638.04 373.61 L638.07 376.55 L638.09 379.49 L638.12 382.43 L638.15 385.37 L638.18 388.3 L638.21 391.24 L638.24 394.18 L638.27 397.12 L638.3 400.05 L638.33 402.99 L638.36 405.93 L638.38 408.87 L638.41 411.8 L638.44 414.74 L638.46 417.68 L638.49 420.62 L638.51 423.56 L638.54 426.49 L638.56 429.43 L638.58 432.37 L638.61 435.31 L638.63 438.25 L638.66 441.18 L638.68 444.12 L638.71 447.06 L638.73 450 L638.76 452.93 L638.79 455.87 L638.82 458.81 L638.85 461.75 L638.88 464.68 L638.91 467.62 L638.94 470.56 L638.98 473.5 L639.02 476.43 L639.06 479.37 L639.1 482.31 L639.14 485.25 L639.19 488.18 L639.23 491.12 L639.28 494.06 L639.34 496.99 L639.4 499.93 L639.47 502.87 L639.55 505.8 L639.64 508.74 L639.74 511.68 L639.85 514.62 L639.96 517.55 L640.08 520.49 L640.21 523.42 L640.34 526.36 L640.48 529.29 L640.63 532.22 L640.78 535.16 L640.95 538.1 L641.15 541.04 L641.38 543.97 L641.65 546.89 L641.98 549.8 L642.41 552.78 L643.07 555.7 L644.2 558.17 L646.5 560.2 L665 560.2" fill="none" stroke="#00f" stroke-width="2.3" stroke-linejoin="round" stroke-dasharray="10.03 5.67" stroke-dashoffset="0.2"/>
<path d="M665 560.2 L682.9 560.2 L682.96 558.26 L683.03 556.32 L683.09 554.38 L683.15 552.43 L683.21 550.49 L683.27 548.55 L683.33 546.61 L683.38 544.67 L683.43 542.73 L683.48 540.78 L683.53 538.84 L683.57 536.9 L683.61 534.96 L683.65 533.02 L683.7 531.07 L683.74 529.13 L683.77 527.19 L683.81 525.25 L683.85 523.31 L683.89 521.36 L683.92 519.42 L683.96 517.48 L683.99 515.54 L684.02 513.59 L684.06 511.65 L684.09 509.71 L684.12 507.77 L684.15 505.83 L684.18 503.88 L684.2 501.94 L684.23 500 L684.26 498.06 L684.29 496.11 L684.31 494.17 L684.34 492.23 L684.36 490.29 L684.38 488.35 L684.41 486.4 L684.43 484.46 L684.45 482.52 L684.47 480.58 L684.49 478.63 L684.51 476.69 L684.53 474.75 L684.55 472.81 L684.57 470.86 L684.59 468.92 L684.61 466.98 L684.62 465.04 L684.64 463.09 L684.66 461.15 L684.68 459.21 L684.69 457.27 L684.71 455.33 L684.73 453.38 L684.74 451.44 L684.76 449.5 L684.78 447.56 L684.79 445.61 L684.81 443.67 L684.83 441.73 L684.85 439.79 L684.86 437.84 L684.88 435.9 L684.9 433.96 L684.92 432.02 L684.93 430.07 L684.95 428.13 L684.97 426.19 L684.99 424.25 L685.01 422.3 L685.03 420.36 L685.05 418.42 L685.07 416.48 L685.09 414.54 L685.12 412.59 L685.14 410.65 L685.16 408.71 L685.19 406.77 L685.21 404.82 L685.24 402.88 L685.26 400.94 L685.29 399 L685.31 397.05 L685.33 395.11 L685.36 393.17 L685.38 391.23 L685.4 389.28 L685.43 387.34 L685.46 385.4 L685.49 383.46 L685.53 381.52 L685.58 379.57 L685.63 377.63 L685.69 375.69 L685.77 373.75 L685.85 371.8 L685.95 369.87 L686.09 367.74 L686.33 365.32 L686.53 364.42 L686.67 365.22 L686.8 366.95 L686.92 369.27 L687.03 371.83 L687.13 374.3 L687.23 376.36 L687.34 378.3 L687.44 380.24 L687.54 382.18 L687.64 384.12 L687.72 386.06 L687.8 388.01 L687.86 389.95 L687.91 391.89 L687.94 393.83 L687.97 395.77 L687.99 397.71 L688.01 399.66 L688.03 401.6 L688.05 403.54 L688.08 405.48 L688.11 407.43 L688.15 409.37 L688.2 411.31 L688.25 413.25 L688.31 415.19 L688.37 417.14 L688.42 419.08 L688.48 421.02 L688.52 422.96 L688.57 424.9 L688.61 426.84 L688.65 428.79 L688.69 430.73 L688.73 432.67 L688.77 434.61 L688.81 436.56 L688.84 438.5 L688.88 440.44 L688.91 442.38 L688.94 444.33 L688.98 446.27 L689.01 448.21 L689.04 450.15 L689.08 452.1 L689.11 454.04 L689.14 455.98 L689.18 457.92 L689.21 459.86 L689.24 461.81 L689.28 463.75 L689.31 465.69 L689.35 467.63 L689.38 469.58 L689.42 471.52 L689.46 473.46 L689.5 475.4 L689.54 477.34 L689.59 479.29 L689.63 481.23 L689.68 483.17 L689.72 485.11 L689.77 487.05 L689.83 488.99 L689.88 490.93 L689.94 492.88 L689.99 494.82 L690.06 496.76 L690.12 498.7 L690.19 500.64 L690.27 502.58 L690.35 504.52 L690.43 506.46 L690.52 508.41 L690.61 510.35 L690.71 512.29 L690.81 514.23 L690.91 516.17 L691.02 518.11 L691.14 520.05 L691.25 521.99 L691.37 523.93 L691.5 525.86 L691.63 527.8 L691.76 529.74 L691.9 531.67 L692.04 533.61 L692.18 535.56 L692.34 537.5 L692.5 539.45 L692.69 541.39 L692.89 543.33 L693.12 545.26 L693.37 547.18 L693.65 549.08 L693.98 551 L694.4 553.03 L694.94 555.02 L695.63 556.8 L696.52 558.2 L698.05 559.32 L700 560.2 L722.8 560.2" fill="none" stroke="#00f" stroke-width="2.3" stroke-linejoin="round" stroke-dasharray="10.03 5.67" stroke-dashoffset="14.48"/>
<path d="M722.8 560.2 L732.3 560.2 L732.38 558.68 L732.45 557.17 L732.53 555.65 L732.6 554.13 L732.67 552.62 L732.75 551.1 L732.82 549.58 L732.89 548.07 L732.96 546.55 L733.03 545.03 L733.1 543.52 L733.17 542 L733.23 540.48 L733.3 538.97 L733.37 537.45 L733.43 535.93 L733.5 534.42 L733.57 532.9 L733.63 531.38 L733.7 529.87 L733.76 528.35 L733.82 526.83 L733.89 525.32 L733.95 523.8 L734.01 522.28 L734.07 520.76 L734.13 519.25 L734.18 517.73 L734.24 516.21 L734.29 514.7 L734.35 513.18 L734.4 511.66 L734.45 510.14 L734.5 508.63 L734.54 507.11 L734.59 505.59 L734.64 504.07 L734.68 502.56 L734.73 501.04 L734.77 499.52 L734.81 498 L734.86 496.49 L734.9 494.97 L734.94 493.45 L734.98 491.93 L735.03 490.41 L735.06 488.9 L735.1 487.38 L735.14 485.86 L735.18 484.34 L735.22 482.83 L735.25 481.31 L735.29 479.79 L735.33 478.27 L735.36 476.75 L735.4 475.24 L735.44 473.72 L735.48 472.2 L735.51 470.68 L735.55 469.17 L735.59 467.65 L735.63 466.13 L735.67 464.61 L735.71 463.09 L735.75 461.58 L735.8 460.06 L735.84 458.54 L735.88 457.02 L735.93 455.51 L735.97 453.99 L736.01 452.47 L736.05 450.95 L736.09 449.43 L736.14 447.92 L736.18 446.4 L736.23 444.88 L736.28 443.36 L736.34 441.85 L736.39 440.33 L736.45 438.81 L736.52 437.3 L736.59 435.78 L736.67 434.13 L736.76 432.19 L736.87 430.19 L736.99 428.32 L737.11 426.82 L737.23 425.89 L737.34 425.76 L737.46 426.49 L737.58 427.89 L737.7 429.71 L737.82 431.71 L737.93 433.65 L738.02 435.31 L738.1 436.82 L738.17 438.34 L738.24 439.85 L738.31 441.37 L738.37 442.89 L738.43 444.4 L738.49 445.92 L738.54 447.44 L738.6 448.96 L738.65 450.47 L738.71 451.99 L738.76 453.51 L738.81 455.03 L738.87 456.54 L738.92 458.06 L738.98 459.58 L739.04 461.1 L739.1 462.61 L739.16 464.13 L739.22 465.65 L739.28 467.16 L739.33 468.68 L739.39 470.2 L739.45 471.72 L739.51 473.23 L739.56 474.75 L739.62 476.27 L739.68 477.79 L739.74 479.3 L739.8 480.82 L739.86 482.34 L739.93 483.85 L739.99 485.37 L740.06 486.89 L740.13 488.4 L740.2 489.92 L740.27 491.44 L740.35 492.95 L740.43 494.47 L740.51 495.98 L740.59 497.5 L740.68 499.02 L740.77 500.53 L740.86 502.05 L740.95 503.56 L741.04 505.08 L741.13 506.59 L741.22 508.11 L741.31 509.63 L741.4 511.14 L741.49 512.66 L741.58 514.17 L741.67 515.69 L741.75 517.21 L741.83 518.72 L741.91 520.24 L741.99 521.76 L742.07 523.27 L742.15 524.79 L742.23 526.31 L742.32 527.82 L742.41 529.34 L742.51 530.85 L742.61 532.37 L742.72 533.88 L742.83 535.39 L742.95 536.91 L743.07 538.43 L743.2 539.95 L743.33 541.48 L743.48 543 L743.64 544.52 L743.82 546.03 L744.02 547.53 L744.23 549.02 L744.48 550.5 L744.75 551.99 L745.11 553.56 L745.56 555.14 L746.12 556.61 L746.78 557.86 L747.63 558.81 L748.94 559.6 L750.5 560.2 L765.5 560.2" fill="none" stroke="#00f" stroke-width="2.3" stroke-linejoin="round" stroke-dasharray="10.03 5.67" stroke-dashoffset="14.61"/>
<path d="M765.5 560.2 L782.5 560.2 L782.59 558.86 L782.68 557.52 L782.77 556.19 L782.86 554.85 L782.95 553.51 L783.03 552.17 L783.12 550.83 L783.2 549.49 L783.28 548.16 L783.36 546.82 L783.44 545.48 L783.52 544.14 L783.6 542.8 L783.67 541.46 L783.74 540.12 L783.81 538.78 L783.88 537.45 L783.95 536.11 L784.01 534.77 L784.07 533.43 L784.13 532.09 L784.2 530.75 L784.25 529.41 L784.31 528.07 L784.37 526.73 L784.43 525.39 L784.48 524.05 L784.54 522.71 L784.6 521.37 L784.65 520.03 L784.71 518.69 L784.77 517.35 L784.82 516.01 L784.88 514.67 L784.94 513.33 L785 511.99 L785.06 510.65 L785.12 509.31 L785.18 507.97 L785.25 506.63 L785.31 505.29 L785.37 503.95 L785.43 502.61 L785.49 501.27 L785.56 499.93 L785.62 498.6 L785.68 497.26 L785.74 495.92 L785.8 494.58 L785.86 493.24 L785.92 491.9 L785.98 490.56 L786.03 489.22 L786.09 487.88 L786.14 486.54 L786.18 485.2 L786.23 483.86 L786.28 482.51 L786.32 481.17 L786.37 479.83 L786.42 478.49 L786.47 477.15 L786.52 475.81 L786.58 474.47 L786.64 473.13 L786.7 471.8 L786.77 470.46 L786.85 469.06 L786.95 467.45 L787.05 465.71 L787.17 463.93 L787.3 462.23 L787.43 460.69 L787.57 459.43 L787.71 458.54 L787.86 458.12 L788.02 458.33 L788.22 459.26 L788.42 460.69 L788.63 462.39 L788.82 464.14 L788.97 465.72 L789.09 467.06 L789.2 468.4 L789.31 469.73 L789.4 471.07 L789.49 472.41 L789.58 473.75 L789.66 475.08 L789.73 476.42 L789.81 477.76 L789.88 479.1 L789.95 480.44 L790.01 481.78 L790.08 483.12 L790.15 484.47 L790.22 485.81 L790.29 487.14 L790.37 488.48 L790.45 489.82 L790.52 491.16 L790.6 492.5 L790.68 493.84 L790.75 495.18 L790.82 496.52 L790.9 497.86 L790.97 499.2 L791.04 500.53 L791.11 501.87 L791.19 503.21 L791.26 504.55 L791.34 505.89 L791.41 507.23 L791.49 508.57 L791.57 509.91 L791.65 511.24 L791.74 512.58 L791.82 513.92 L791.9 515.26 L791.98 516.6 L792.06 517.94 L792.14 519.28 L792.22 520.62 L792.3 521.96 L792.38 523.3 L792.46 524.64 L792.55 525.98 L792.63 527.32 L792.73 528.66 L792.82 530 L792.92 531.33 L793.03 532.67 L793.14 534.01 L793.25 535.34 L793.37 536.67 L793.5 538 L793.63 539.34 L793.78 540.68 L793.92 542.03 L794.08 543.38 L794.25 544.74 L794.44 546.1 L794.65 547.44 L794.88 548.77 L795.13 550.09 L795.42 551.38 L795.73 552.64 L796.08 553.87 L796.58 555.15 L797.24 556.42 L798.02 557.57 L798.88 558.5 L799.89 559.2 L801.12 559.78 L802.5 560.2 L811 560.2" fill="none" stroke="#00f" stroke-width="2.3" stroke-linejoin="round" stroke-dasharray="10.03 5.67" stroke-dashoffset="14.38"/>
<path d="M811 560.2 L831.5 560.2 L831.78 559.06 L832.06 557.92 L832.33 556.78 L832.58 555.63 L832.82 554.49 L833.02 553.34 L833.19 552.19 L833.32 551.04 L833.42 549.88 L833.51 548.72 L833.59 547.56 L833.67 546.4 L833.74 545.24 L833.81 544.07 L833.87 542.91 L833.93 541.74 L833.98 540.57 L834.03 539.4 L834.08 538.23 L834.13 537.06 L834.18 535.89 L834.22 534.72 L834.27 533.55 L834.32 532.38 L834.37 531.21 L834.42 530.04 L834.48 528.88 L834.54 527.71 L834.61 526.54 L834.68 525.38 L834.75 524.21 L834.82 523.05 L834.9 521.88 L834.98 520.71 L835.05 519.55 L835.13 518.38 L835.21 517.22 L835.29 516.05 L835.37 514.89 L835.45 513.72 L835.52 512.56 L835.6 511.39 L835.68 510.23 L835.75 509.06 L835.83 507.9 L835.89 506.73 L835.96 505.56 L836.02 504.4 L836.08 503.23 L836.14 502.06 L836.2 500.89 L836.26 499.72 L836.32 498.56 L836.39 497.39 L836.45 496.22 L836.52 495.06 L836.6 493.89 L836.68 492.73 L836.77 491.57 L836.86 490.41 L836.97 489.2 L837.1 487.83 L837.26 486.35 L837.43 484.81 L837.61 483.29 L837.8 481.85 L838 480.56 L838.2 479.47 L838.39 478.66 L838.58 478.19 L838.76 478.13 L838.95 478.51 L839.15 479.27 L839.35 480.35 L839.54 481.65 L839.74 483.1 L839.93 484.63 L840.1 486.15 L840.25 487.6 L840.39 488.88 L840.5 490.04 L840.61 491.2 L840.72 492.36 L840.82 493.53 L840.91 494.69 L841 495.85 L841.08 497.02 L841.16 498.18 L841.24 499.35 L841.32 500.51 L841.39 501.68 L841.46 502.85 L841.53 504.02 L841.6 505.18 L841.67 506.35 L841.75 507.52 L841.82 508.68 L841.89 509.85 L841.96 511.02 L842.04 512.18 L842.12 513.35 L842.2 514.51 L842.28 515.68 L842.36 516.85 L842.44 518.01 L842.51 519.18 L842.58 520.35 L842.65 521.52 L842.72 522.69 L842.8 523.85 L842.87 525.02 L842.94 526.19 L843.01 527.36 L843.09 528.52 L843.17 529.69 L843.26 530.86 L843.35 532.02 L843.44 533.18 L843.54 534.34 L843.65 535.5 L843.76 536.66 L843.88 537.82 L844.01 538.97 L844.15 540.13 L844.32 541.28 L844.51 542.44 L844.72 543.59 L844.94 544.74 L845.19 545.89 L845.44 547.04 L845.72 548.18 L846 549.31 L846.29 550.44 L846.6 551.56 L846.92 552.71 L847.27 553.87 L847.66 555.02 L848.1 556.11 L848.6 557.11 L849.2 558 L849.99 558.81 L850.95 559.54 L852 560.2 L866.7 560.2" fill="none" stroke="#00f" stroke-width="2.3" stroke-linejoin="round" stroke-dasharray="10.03 5.67" stroke-dashoffset="13.79"/>
<path d="M866.7 560.2 L881.8 560.2 L882.04 559.31 L882.28 558.42 L882.52 557.54 L882.75 556.65 L882.97 555.76 L883.18 554.86 L883.37 553.97 L883.54 553.07 L883.68 552.18 L883.79 551.28 L883.88 550.37 L883.97 549.47 L884.05 548.57 L884.13 547.66 L884.2 546.75 L884.26 545.84 L884.32 544.93 L884.38 544.02 L884.43 543.11 L884.49 542.2 L884.53 541.28 L884.58 540.37 L884.63 539.45 L884.67 538.54 L884.71 537.62 L884.75 536.71 L884.8 535.79 L884.84 534.87 L884.88 533.96 L884.93 533.04 L884.97 532.12 L885.02 531.21 L885.07 530.29 L885.12 529.38 L885.18 528.47 L885.24 527.55 L885.3 526.64 L885.37 525.73 L885.44 524.82 L885.51 523.91 L885.58 523 L885.66 522.08 L885.74 521.17 L885.81 520.26 L885.89 519.35 L885.97 518.44 L886.05 517.53 L886.13 516.62 L886.22 515.71 L886.3 514.8 L886.38 513.89 L886.47 512.98 L886.55 512.07 L886.64 511.16 L886.72 510.25 L886.8 509.34 L886.89 508.43 L886.97 507.51 L887.05 506.6 L887.13 505.69 L887.2 504.78 L887.28 503.87 L887.36 502.95 L887.44 502.04 L887.52 501.13 L887.62 500.22 L887.71 499.31 L887.82 498.41 L887.93 497.5 L888.06 496.58 L888.21 495.48 L888.37 494.29 L888.56 493.15 L888.77 492.18 L888.99 491.52 L889.22 491.3 L889.51 491.7 L889.85 492.6 L890.19 493.72 L890.46 494.8 L890.64 495.69 L890.8 496.58 L890.94 497.49 L891.07 498.39 L891.19 499.3 L891.3 500.22 L891.4 501.13 L891.5 502.04 L891.59 502.95 L891.69 503.86 L891.78 504.77 L891.87 505.68 L891.96 506.59 L892.04 507.5 L892.12 508.41 L892.19 509.32 L892.27 510.23 L892.34 511.14 L892.41 512.06 L892.48 512.97 L892.54 513.88 L892.61 514.79 L892.68 515.71 L892.75 516.62 L892.81 517.53 L892.88 518.44 L892.95 519.35 L893.02 520.27 L893.1 521.18 L893.17 522.09 L893.25 523 L893.33 523.91 L893.41 524.82 L893.5 525.73 L893.59 526.64 L893.69 527.55 L893.78 528.46 L893.88 529.37 L893.98 530.28 L894.08 531.19 L894.18 532.1 L894.29 533.01 L894.39 533.92 L894.5 534.83 L894.61 535.74 L894.73 536.64 L894.85 537.55 L894.97 538.46 L895.1 539.36 L895.23 540.27 L895.37 541.17 L895.51 542.07 L895.65 542.97 L895.8 543.87 L895.96 544.77 L896.12 545.67 L896.29 546.57 L896.46 547.49 L896.65 548.4 L896.85 549.31 L897.06 550.22 L897.29 551.12 L897.53 552 L897.8 552.87 L898.08 553.72 L898.4 554.54 L898.75 555.35 L899.18 556.18 L899.69 557 L900.26 557.77 L900.87 558.45 L901.52 559.02 L902.25 559.48 L903.09 559.88 L904 560.2 L918.5 560.2" fill="none" stroke="#00f" stroke-width="2.3" stroke-linejoin="round" stroke-dasharray="10.03 5.67" stroke-dashoffset="13.9"/>
<path d="M918.5 560.2 L932.6 560.2 L932.74 559.19 L932.88 558.17 L933.02 557.16 L933.16 556.14 L933.3 555.12 L933.43 554.11 L933.56 553.09 L933.68 552.08 L933.8 551.06 L933.92 550.04 L934.03 549.03 L934.14 548.01 L934.24 546.99 L934.34 545.97 L934.44 544.95 L934.53 543.93 L934.62 542.91 L934.71 541.89 L934.79 540.87 L934.87 539.85 L934.95 538.83 L935.03 537.81 L935.11 536.78 L935.19 535.76 L935.27 534.74 L935.35 533.72 L935.43 532.7 L935.51 531.68 L935.59 530.66 L935.68 529.64 L935.76 528.62 L935.85 527.59 L935.94 526.57 L936.04 525.56 L936.14 524.54 L936.24 523.52 L936.34 522.5 L936.43 521.47 L936.53 520.45 L936.63 519.43 L936.72 518.4 L936.82 517.37 L936.92 516.35 L937.03 515.33 L937.13 514.3 L937.25 513.28 L937.37 512.26 L937.5 511.25 L937.64 510.24 L937.78 509.23 L937.94 508.22 L938.11 507.22 L938.29 506.23 L938.53 505.1 L938.83 503.81 L939.17 502.59 L939.52 501.65 L939.85 501.21 L940.16 501.36 L940.48 501.92 L940.81 502.79 L941.13 503.89 L941.45 505.13 L941.74 506.44 L942 507.71 L942.22 508.88 L942.41 509.9 L942.58 510.9 L942.73 511.9 L942.88 512.91 L943.01 513.92 L943.14 514.94 L943.26 515.95 L943.38 516.97 L943.49 517.99 L943.59 519.01 L943.69 520.03 L943.8 521.06 L943.9 522.08 L944 523.11 L944.1 524.13 L944.21 525.15 L944.32 526.17 L944.44 527.19 L944.56 528.21 L944.69 529.23 L944.83 530.24 L944.98 531.26 L945.12 532.27 L945.26 533.29 L945.4 534.31 L945.54 535.33 L945.69 536.35 L945.84 537.37 L945.99 538.39 L946.15 539.4 L946.31 540.42 L946.48 541.43 L946.66 542.44 L946.84 543.45 L947.03 544.45 L947.24 545.45 L947.45 546.44 L947.67 547.43 L947.9 548.42 L948.15 549.42 L948.42 550.44 L948.72 551.47 L949.04 552.49 L949.39 553.49 L949.77 554.46 L950.19 555.37 L950.64 556.23 L951.15 557.01 L951.76 557.73 L952.51 558.42 L953.34 559.06 L954.25 559.65 L955.2 560.2 L975.6 560.2" fill="none" stroke="#00f" stroke-width="2.3" stroke-linejoin="round" stroke-dasharray="10.03 5.67" stroke-dashoffset="13.34"/>
</g>
<g id="d-frame" stroke="#000" stroke-opacity="0.6" stroke-width="0.8" fill="none">
<rect x="585" y="318.95" width="390.6" height="241.25" stroke-width="0.9"/>
<path d="M585 560.2 v-4.8 M585 318.95 v4.8 M609.41 560.2 v-2.9 M609.41 318.95 v2.9 M633.83 560.2 v-2.9 M633.83 318.95 v2.9 M658.24 560.2 v-2.9 M658.24 318.95 v2.9 M682.65 560.2 v-4.8 M682.65 318.95 v4.8 M707.06 560.2 v-2.9 M707.06 318.95 v2.9 M731.48 560.2 v-2.9 M731.48 318.95 v2.9 M755.89 560.2 v-2.9 M755.89 318.95 v2.9 M780.3 560.2 v-4.8 M780.3 318.95 v4.8 M804.71 560.2 v-2.9 M804.71 318.95 v2.9 M829.12 560.2 v-2.9 M829.12 318.95 v2.9 M853.54 560.2 v-2.9 M853.54 318.95 v2.9 M877.95 560.2 v-4.8 M877.95 318.95 v4.8 M902.36 560.2 v-2.9 M902.36 318.95 v2.9 M926.78 560.2 v-2.9 M926.78 318.95 v2.9 M951.19 560.2 v-2.9 M951.19 318.95 v2.9 M975.6 560.2 v-4.8 M975.6 318.95 v4.8 M585 560.2 h4.8 M975.6 560.2 h-4.8 M585 546.78 h2.9 M975.6 546.78 h-2.9 M585 533.36 h2.9 M975.6 533.36 h-2.9 M585 519.94 h2.9 M975.6 519.94 h-2.9 M585 506.52 h4.8 M975.6 506.52 h-4.8 M585 493.1 h2.9 M975.6 493.1 h-2.9 M585 479.68 h2.9 M975.6 479.68 h-2.9 M585 466.26 h2.9 M975.6 466.26 h-2.9 M585 452.84 h4.8 M975.6 452.84 h-4.8 M585 439.42 h2.9 M975.6 439.42 h-2.9 M585 426 h2.9 M975.6 426 h-2.9 M585 412.58 h2.9 M975.6 412.58 h-2.9 M585 399.16 h4.8 M975.6 399.16 h-4.8 M585 385.74 h2.9 M975.6 385.74 h-2.9 M585 372.32 h2.9 M975.6 372.32 h-2.9 M585 358.9 h2.9 M975.6 358.9 h-2.9 M585 345.48 h4.8 M975.6 345.48 h-4.8 M585 332.06 h2.9 M975.6 332.06 h-2.9 M585 318.64 h2.9 M975.6 318.64 h-2.9"/>
</g>
<g id="d-labels" font-family='"Liberation Sans", sans-serif' font-size="20" fill="#000" style="filter:grayscale(1)">
<text x="580.9" y="568" text-anchor="end" stroke="#000" stroke-width="0.25">0.00</text>
<text x="580.9" y="514.32" text-anchor="end" stroke="#000" stroke-width="0.25">0.02</text>
<text x="580.9" y="460.64" text-anchor="end" stroke="#000" stroke-width="0.25">0.04</text>
<text x="580.9" y="406.96" text-anchor="end" stroke="#000" stroke-width="0.25">0.06</text>
<text x="580.9" y="353.28" text-anchor="end" stroke="#000" stroke-width="0.25">0.08</text>
<text x="584.95" y="583" text-anchor="middle" stroke="#000" stroke-width="0.25">0</text>
<text x="682.6" y="583" text-anchor="middle" stroke="#000" stroke-width="0.25">2</text>
<text x="780.25" y="583" text-anchor="middle" stroke="#000" stroke-width="0.25">4</text>
<text x="877.9" y="583" text-anchor="middle" stroke="#000" stroke-width="0.25">6</text>
<text x="975.55" y="583" text-anchor="middle" stroke="#000" stroke-width="0.25">8</text>
<text transform="translate(529.4 439.58) rotate(-90)" text-anchor="middle" font-weight="bold">Concurrence</text>
<text x="765.6" y="613.5" font-weight="bold">t</text>
<text x="772.8" y="613.5" font-weight="bold">/</text>
<text x="779.5" y="613.5" font-weight="bold" font-style="italic">τ</text>
<path d="M793.19 616.5H791.31V609.42Q790.28 610.38 788.88 610.84V609.13Q789.62 608.89 790.48 608.22Q791.35 607.55 791.67 606.65H793.19Z" fill="#000"/>
<text x="926.9" y="352.3" text-anchor="middle" font-weight="bold">(d)</text>
</g>
</svg></body></html>
